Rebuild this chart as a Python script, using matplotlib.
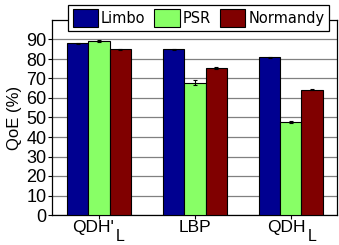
import matplotlib
matplotlib.use('Agg')
import matplotlib.pyplot as plt
import matplotlib.transforms as mtransforms
import numpy as np

categories = ["QDH'", 'LBP', 'QDH']
subscripts = ['L', '', 'L']
series_names = ['Limbo', 'PSR', 'Normandy']
limbo = [88.0, 85.0, 80.8]
psr = [89.0, 67.8, 47.8]
normandy = [85.0, 75.3, 64.3]
limbo_err = [0.4, 0.3, 0.3]
psr_err = [0.5, 1.2, 0.5]
normandy_err = [0.3, 0.5, 0.3]
colors = ['#000090', '#88ff66', '#800000']

fig = plt.figure(figsize=(3.39, 2.45), dpi=100)
ax = fig.add_axes([52 / 339, 30 / 245, 285 / 339, 195 / 245])

x = np.arange(len(categories))
width = 0.22
values = [limbo, psr, normandy]
errors = [limbo_err, psr_err, normandy_err]
for i, (vals, errs) in enumerate(zip(values, errors)):
    ax.bar(x + (i - 1) * width, vals, width, yerr=errs, color=colors[i],
           edgecolor='black', linewidth=0.8, label=series_names[i],
           error_kw=dict(ecolor='black', elinewidth=0.8, capsize=1.5, capthick=0.8),
           zorder=3)

ax.set_xlim(-0.49, 2.48)
ax.set_ylim(0, 100)
ax.set_yticks(np.arange(0, 91, 10))
ax.set_xticks(x)
ax.set_xticklabels([''] * len(categories))
for lbl in ax.get_yticklabels():
    lbl.set_fontfamily('Liberation Sans')
    lbl.set_fontsize(13)
ax.tick_params(axis='both', length=3, width=0.8, pad=1)
ax.yaxis.grid(True, color='#808080', linewidth=0.9, zorder=0)
ax.set_axisbelow(True)
ax.set_ylabel('QoE (%)', fontfamily='Liberation Sans', fontsize=12, labelpad=3)
for s in ax.spines.values():
    s.set_linewidth(0.9)

# category labels with large subscript
base = mtransforms.blended_transform_factory(ax.transData, ax.transAxes)
for xi, cat, sub in zip(x, categories, subscripts):
    if sub:
        tr = mtransforms.offset_copy(base, fig=fig, x=15, y=-5, units='dots')
        ax.text(xi, 0, cat, transform=tr, ha='right', va='top',
                fontfamily='Liberation Sans', fontsize=12.5)
        tr2 = mtransforms.offset_copy(base, fig=fig, x=17, y=-14, units='dots')
        ax.text(xi, 0, sub, transform=tr2, ha='left', va='top',
                fontfamily='Liberation Sans', fontsize=11.5)
    else:
        tr = mtransforms.offset_copy(base, fig=fig, x=0, y=-5, units='dots')
        ax.text(xi, 0, cat, transform=tr, ha='center', va='top',
                fontfamily='Liberation Sans', fontsize=12.5)

leg = ax.legend(loc='center', bbox_to_anchor=(0.514, 1.01), ncol=3, fontsize=10.5,
                frameon=True, fancybox=False, edgecolor='black', framealpha=1,
                handlelength=1.75, handleheight=1.45, handletextpad=0.2,
                columnspacing=0.6, borderpad=0.3, borderaxespad=0)
leg.get_frame().set_linewidth(0.9)
leg.set_zorder(5)

fig.savefig('out.png', dpi=100)
